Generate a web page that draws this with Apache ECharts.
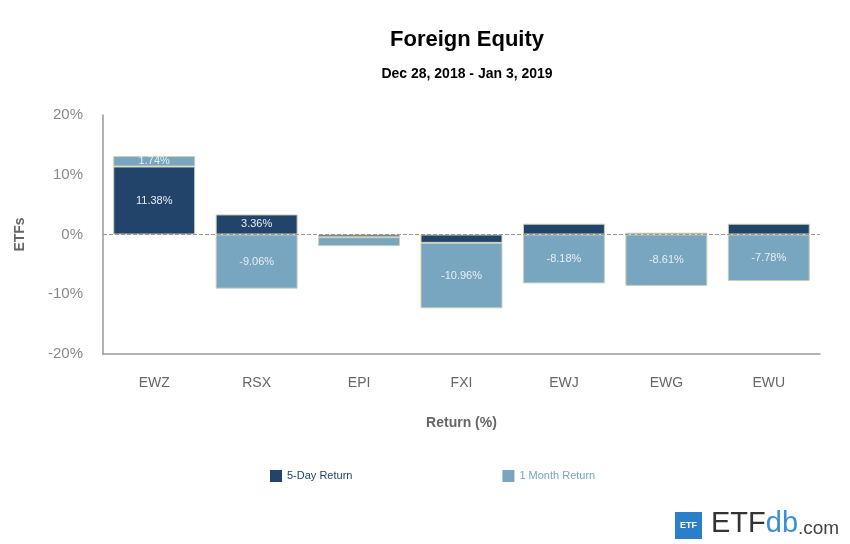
<!DOCTYPE html>
<html>
<head>
<meta charset="utf-8">
<script src="https://cdn.jsdelivr.net/npm/echarts@6/dist/echarts.min.js"></script>
<style>
  html, body { margin: 0; padding: 0; background: #fff; }
  #chart { width: 850px; height: 544px; }
</style>
</head>
<body>
<div id="chart"></div>
<script>
  // ETF tickers on the x axis
  const etfs = ['EWZ', 'RSX', 'EPI', 'FXI', 'EWJ', 'EWG', 'EWU'];
  // returns in %
  const fiveDay = [11.38, 3.36, -0.45, -1.4, 1.8, 0.3, 1.8];
  const oneMonth = [1.74, -9.06, -1.5, -10.96, -8.18, -8.61, -7.78];
  const yTicks = [-20, -10, 0, 10, 20];

  const darkBlue = '#22446b';
  const lightBlue = '#78a5bf';
  const font = 'Liberation Sans, Arial, sans-serif';

  const chart = echarts.init(document.getElementById('chart'));

  // only label bars that are tall enough, like the original
  function labelFmt(min) {
    return function (p) {
      return Math.abs(p.value) >= min ? p.value.toFixed(2) + '%' : '';
    };
  }

  const option = {
    animation: false,
    textStyle: { fontFamily: font },
    title: [{
      text: 'Foreign Equity',
      left: 462,
      top: 24,
      textAlign: 'center',
      textStyle: { color: '#000', fontSize: 22, fontWeight: 'bold' }
    }, {
      text: 'Dec 28, 2018 - Jan 3, 2019',
      left: 462,
      top: 62,
      textAlign: 'center',
      textStyle: { color: '#000', fontSize: 14, fontWeight: 'bold' }
    }],
    legend: {
      left: 265,
      top: 465,
      itemWidth: 12,
      itemHeight: 12,
      itemGap: 150,
      icon: 'rect',
      itemStyle: { borderWidth: 0 },
      data: [
        { name: '5-Day Return', textStyle: { color: darkBlue } },
        { name: '1 Month Return', textStyle: { color: lightBlue } }
      ],
      textStyle: { fontSize: 11 }
    },
    grid: {
      left: 103,
      right: 30,
      top: 115,
      bottom: 190
    },
    xAxis: {
      type: 'category',
      data: etfs,
      name: 'Return (%)',
      nameLocation: 'middle',
      nameGap: 62,
      nameTextStyle: { color: '#666', fontSize: 14, fontWeight: 'bold' },
      axisLine: { onZero: false, lineStyle: { color: '#999', width: 1.5 } },
      axisTick: { show: false },
      axisLabel: { color: '#666', fontSize: 14, margin: 22 }
    },
    yAxis: {
      type: 'value',
      min: yTicks[0],
      max: yTicks[yTicks.length - 1],
      interval: 10,
      name: 'ETFs',
      nameLocation: 'middle',
      nameGap: 76,
      nameTextStyle: { color: '#666', fontSize: 14, fontWeight: 'bold' },
      axisLine: { show: true, lineStyle: { color: '#999', width: 1.5 } },
      axisTick: { show: false },
      splitLine: { show: false },
      axisLabel: {
        color: '#888',
        fontSize: 15,
        margin: 20,
        formatter: '{value}%'
      }
    },
    series: [{
      name: '5-Day Return',
      type: 'bar',
      stack: 'ret',
      barCategoryGap: '20%',
      data: fiveDay,
      itemStyle: { color: darkBlue, borderColor: '#c9d0b4', borderWidth: 1 },
      label: {
        show: true,
        position: 'inside',
        color: '#e8eef4',
        fontSize: 11,
        formatter: labelFmt(3)
      },
      markLine: {
        silent: true,
        symbol: 'none',
        label: { show: false },
        lineStyle: { color: '#999', type: 'dashed', width: 1 },
        data: [{ yAxis: 0 }]
      }
    }, {
      name: '1 Month Return',
      type: 'bar',
      stack: 'ret',
      data: oneMonth,
      itemStyle: { color: lightBlue, borderColor: '#c9d0b4', borderWidth: 1 },
      label: {
        show: true,
        position: 'inside',
        color: '#e8eef4',
        fontSize: 11,
        formatter: labelFmt(1.7)
      }
    }],
    graphic: [{
      type: 'rect',
      left: 675,
      top: 512,
      shape: { width: 27, height: 27 },
      style: { fill: '#2a7fc9' }
    }, {
      type: 'text',
      left: 680,
      top: 521,
      style: { text: 'ETF', fill: '#fff', font: 'bold 9px ' + font }
    }, {
      type: 'text',
      left: 711,
      top: 509,
      style: {
        text: '{a|ETF}{b|db}{c|.com}',
        rich: {
          a: { fill: '#333', fontSize: 29, fontFamily: font },
          b: { fill: '#3a8fd6', fontSize: 29, fontFamily: font },
          c: { fill: '#444', fontSize: 19, fontFamily: font, verticalAlign: 'bottom' }
        }
      }
    }]
  };

  chart.setOption(option);
</script>
</body>
</html>
